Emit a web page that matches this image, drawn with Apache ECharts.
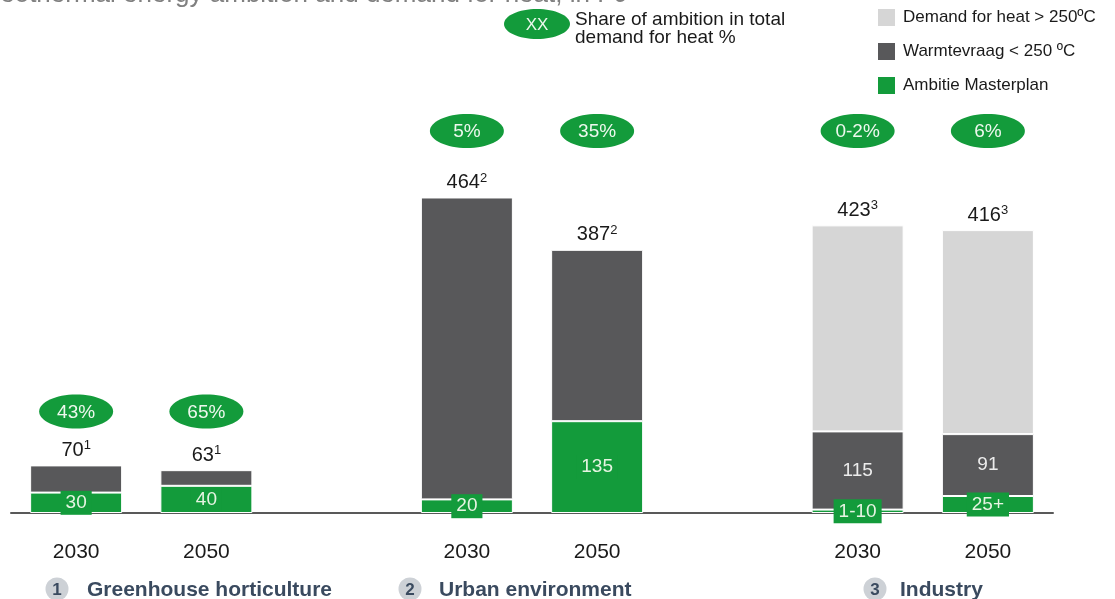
<!DOCTYPE html>
<html><head><meta charset="utf-8">
<script src="https://cdn.jsdelivr.net/npm/echarts@6/dist/echarts.min.js"></script>
<style>html,body{margin:0;padding:0;background:#fff}#c{width:1115px;height:599px}</style>
</head><body><div id="c"></div>
<script>
// ---- data ----
const years = ['2030', '2050', '', '2030', '2050', '', '2030', '2050'];
const ambition = [30, 40, '-', 20, 135, '-', 5, 25];
const lowTemp = [40, 23, '-', 444, 252, '-', 115, 91];
const highTemp = ['-', '-', '-', '-', '-', '-', 303, 300];
const totals = [70, 63, '-', 464, 387, '-', 423, 416];
const footnotes = ['1', '1', '', '2', '2', '', '3', '3'];
const ambitionLabels = ['30', '40', '', '20', '135', '', '1-10', '25+'];
const lowTempLabels = ['', '', '', '', '', '', '115', '91'];
const shares = ['43%', '65%', '', '5%', '35%', '', '0-2%', '6%'];
const groupNames = ['Greenhouse horticulture', 'Urban environment', 'Industry'];
const groupNumbers = ['1', '2', '3'];
const seriesNames = ['Demand for heat > 250ºC', 'Warmtevraag < 250 ºC', 'Ambitie Masterplan'];
const titleText = 'Geothermal energy ambition and demand for heat, in PJ';
const shareLegendText = 'Share of ambition in total\ndemand for heat %';

// ---- style ----
const F = '"Liberation Sans", Arial, sans-serif';
const GREEN = '#139b3b';
const DARK = '#58585a';
const LIGHT = '#d6d6d6';
const TXT = '#1a1a1a';
const GROUPTXT = '#3a4a5f';

const pillData = [];
totals.forEach((t, i) => { if (t !== '-') pillData.push([i, t]); });

const groupPos = [{ b: 57, t: 87 }, { b: 410, t: 439 }, { b: 875, t: 900 }];
const groupGraphics = groupNames.map((n, k) => ({
  type: 'group',
  children: [
    { type: 'circle', shape: { cx: groupPos[k].b, cy: 589, r: 11.5 }, style: { fill: '#cdd1d6' } },
    { type: 'text', style: { x: groupPos[k].b, y: 590, text: groupNumbers[k], align: 'center', verticalAlign: 'middle', fill: GROUPTXT, fontSize: 17, fontWeight: 'bold', fontFamily: F } },
    { type: 'text', style: { x: groupPos[k].t, y: 590, text: n, align: 'left', verticalAlign: 'middle', fill: GROUPTXT, fontSize: 21, fontWeight: 'bold', fontFamily: F } }
  ]
}));

const chart = echarts.init(document.getElementById('c'), null, { renderer: 'canvas' });
chart.setOption({
  animation: false,
  backgroundColor: '#fff',
  grid: { left: 11, right: 62, top: 105, bottom: 86, containLabel: false },
  legend: {
    data: seriesNames,
    orient: 'vertical',
    left: 873, top: 4,
    icon: 'rect', itemWidth: 17, itemHeight: 17, itemGap: 17,
    itemStyle: { borderWidth: 0 },
    textStyle: { fontSize: 17, color: TXT, fontFamily: F, padding: [0, 0, 0, 3] },
    selectedMode: false
  },
  xAxis: {
    type: 'category', data: years,
    axisTick: { show: false },
    axisLine: { lineStyle: { color: '#595959', width: 2 } },
    axisLabel: { margin: 29, fontSize: 21, color: TXT, fontFamily: F, interval: 0 },
    splitLine: { show: false }
  },
  yAxis: { type: 'value', min: 0, max: 600, show: false, splitLine: { show: false } },
  series: [
    {
      name: seriesNames[2], type: 'bar', stack: 'd', barWidth: 92, data: ambition, z: 3,
      itemStyle: { color: GREEN, borderColor: '#fff', borderWidth: 1 },
      label: {
        show: true, position: 'inside', formatter: p => ambitionLabels[p.dataIndex],
        backgroundColor: GREEN, padding: [2, 5, 2, 5], color: '#e6f4e2', fontSize: 19, lineHeight: 20, fontFamily: F
      }
    },
    {
      name: seriesNames[1], type: 'bar', stack: 'd', barWidth: 92, data: lowTemp, z: 2,
      itemStyle: { color: DARK, borderColor: '#fff', borderWidth: 1 },
      label: { show: true, position: 'inside', formatter: p => lowTempLabels[p.dataIndex], color: '#ececec', fontSize: 19, fontFamily: F }
    },
    {
      name: seriesNames[0], type: 'bar', stack: 'd', barWidth: 92, data: highTemp, z: 2,
      itemStyle: { color: LIGHT, borderColor: '#fff', borderWidth: 1 }
    },
    {
      name: 'share', type: 'custom', data: pillData, encode: { x: 0, y: 1 }, z: 5, silent: true,
      renderItem: function (params, api) {
        const i = api.value(0), t = api.value(1);
        const p = api.coord([i, t]);
        const pair = (i % 3 === 0) ? i + 1 : i - 1;
        const gTop = api.coord([i, Math.max(t, totals[pair])])[1];
        const rowY = params.coordSys.y + 26;
        const pillY = (gTop - 54 > rowY + 100) ? gTop - 54 : rowY;
        return {
          type: 'group',
          children: [
            { type: 'ellipse', shape: { cx: p[0], cy: pillY, rx: 37, ry: 17 }, style: { fill: GREEN } },
            { type: 'text', style: { x: p[0], y: pillY + 1, text: shares[i], align: 'center', verticalAlign: 'middle', fill: '#eef8ee', fontSize: 19, fontFamily: F } },
            {
              type: 'text', style: {
                x: p[0], y: p[1] - 4, text: '{n|' + t + '}{s|' + footnotes[i] + '}', align: 'center', verticalAlign: 'bottom',
                rich: {
                  n: { fontSize: 20, fill: TXT, fontFamily: F, lineHeight: 22 },
                  s: { fontSize: 13, fill: TXT, fontFamily: F, lineHeight: 14, verticalAlign: 'top' }
                }
              }
            }
          ]
        };
      }
    }
  ],
  graphic: [
    { type: 'text', x: -20, y: -5, style: { text: titleText, fill: '#808080', fontSize: 26, fontFamily: F, verticalAlign: 'middle', align: 'left' } },
    { type: 'ellipse', shape: { cx: 537, cy: 24, rx: 33, ry: 15 }, style: { fill: GREEN } },
    { type: 'text', x: 537, y: 25, style: { text: 'XX', fill: '#eef8ee', fontSize: 17, fontFamily: F, align: 'center', verticalAlign: 'middle' } },
    { type: 'text', x: 575, y: 11, style: { text: shareLegendText, fill: TXT, fontSize: 19, lineHeight: 18, fontFamily: F, align: 'left', verticalAlign: 'top' } }
  ].concat(groupGraphics)
});
</script></body></html>
